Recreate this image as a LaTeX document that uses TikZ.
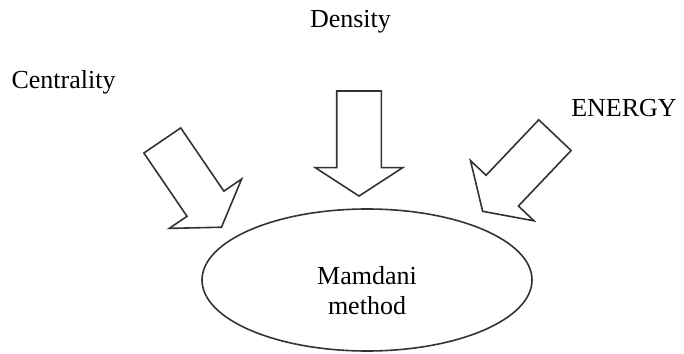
\documentclass[tikz,border=0pt]{standalone}
\usepackage{fontspec}
\setmainfont{Liberation Serif}
\usepackage{tikz}
\usetikzlibrary{arrows,positioning,shapes}

\begin{document}
\begin{tikzpicture}[x=0.5pt, y=-0.5pt, font=\fontsize{13pt}{15pt}\selectfont,
    bigarrow/.style={single arrow, draw=black!80, line width=0.8pt, inner xsep=0pt, inner ysep=10.75pt,
        minimum height=52.5pt, minimum width=43pt, single arrow head extend=10.75pt,
        single arrow tip angle=114, anchor=tip}]
    \useasboundingbox (0,0) rectangle (684,353);
    \node[ellipse, draw=black!80, line width=0.8pt, minimum width=165pt, minimum height=71pt] (mamdani) at (367,280) {};
    \node[align=center, inner sep=0pt] (mamdanitext) at (367,291) {Mamdani\\method};
    \node[bigarrow, rotate=-90] (densityarrow) at (359,197) {};
    \node[bigarrow, rotate=-55.7] (centralityarrow) at (222,228) {};
    \node[bigarrow, rotate=-133.5] (energyarrow) at (482,212) {};
    \node[anchor=base, inner sep=0pt] (density) at (350.5,28) {Density};
    \node[anchor=base, inner sep=0pt] (centrality) at (63.5,89) {Centrality};
    \node[anchor=base, inner sep=0pt] (energy) at (624,117) {ENERGY};
\end{tikzpicture}
\end{document}
